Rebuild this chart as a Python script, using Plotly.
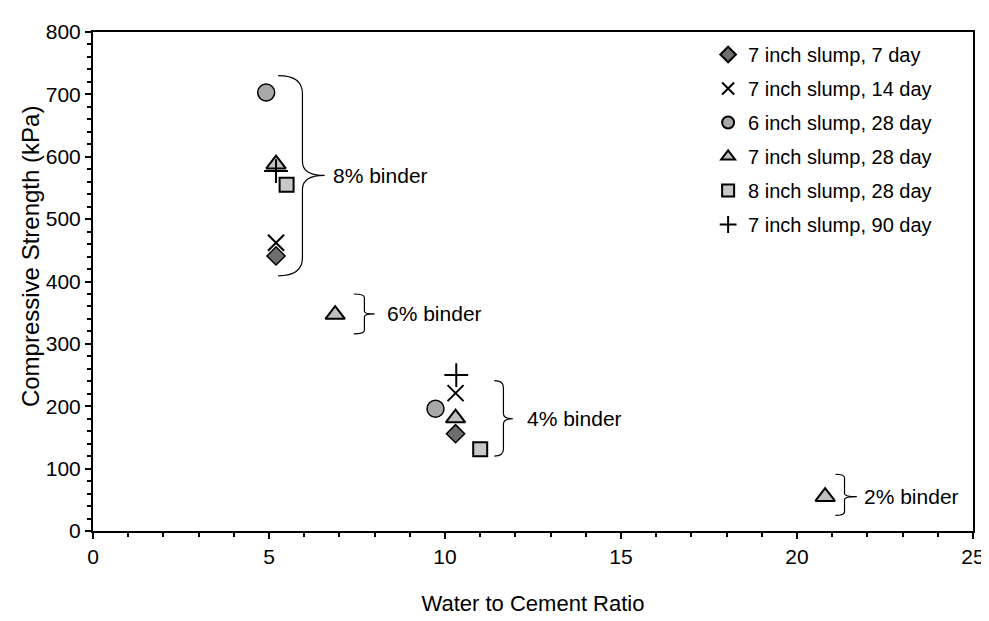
import plotly.graph_objects as go

# ---- data (water/cement ratio, compressive strength kPa) ----
series_names = ["7 inch slump, 7 day", "7 inch slump, 14 day", "6 inch slump, 28 day",
                "7 inch slump, 28 day", "8 inch slump, 28 day", "7 inch slump, 90 day"]
d7_x = [5.2, 10.3]
d7_y = [441, 156]
d14_x = [5.2, 10.3]
d14_y = [462, 221]
s6_28_x = [4.92, 9.73]
s6_28_y = [703, 196]
s7_28_x = [5.2, 6.88, 10.3, 20.8]
s7_28_y = [588, 347, 181, 55]
s8_28_x = [5.5, 11.0]
s8_28_y = [555, 131]
d90_x = [5.2, 10.32]
d90_y = [577, 250]

x_ticks = [0, 5, 10, 15, 20, 25]
y_ticks = [0, 100, 200, 300, 400, 500, 600, 700, 800]

# brace annotations: label, left x, spine x, tip x, top y, bottom y, tip y, text gap (px)
braces = [
    ("8% binder", 5.26, 5.95, 6.58, 730, 409, 570, 6),
    ("6% binder", 7.41, 7.71, 8.0, 380, 316, 348, 10),
    ("4% binder", 11.4, 11.66, 11.93, 241, 120, 180, 12),
    ("2% binder", 21.09, 21.35, 21.7, 91, 25, 55, 5),
]

FONT = "Liberation Sans, Arial, sans-serif"

fig = go.Figure()
styles = [
    dict(symbol="diamond", size=14, color="#6e6e6e", line=dict(color="black", width=1.5)),
    dict(symbol="x-thin-open", size=16, color="black", line=dict(color="black", width=2)),
    dict(symbol="circle", size=17, color="#a8a8a8", line=dict(color="black", width=1.5)),
    dict(symbol="triangle-up", size=17, color="#c0c0c0", line=dict(color="black", width=2)),
    dict(symbol="square", size=14, color="#c8c8c8", line=dict(color="black", width=2)),
    dict(symbol="cross-thin-open", size=17, color="black", line=dict(color="black", width=2)),
]
data = [(d7_x, d7_y), (d14_x, d14_y), (s6_28_x, s6_28_y), (s7_28_x, s7_28_y),
        (s8_28_x, s8_28_y), (d90_x, d90_y)]
for i, (name, (xs, ys), st) in enumerate(zip(series_names, data, styles)):
    fig.add_trace(go.Scatter(x=xs, y=ys, mode="markers", name=name, marker=st,
                             legendgroup=f"g{i}"))

def brace_path(x0, xs, xt, yt, yb, ym):
    r1 = (yt - yb) * 0.09
    r2 = (yt - yb) * 0.07
    return (f"M {x0},{yt} Q {xs},{yt} {xs},{yt - r1} "
            f"L {xs},{ym + r2} Q {xs},{ym} {xt},{ym} "
            f"Q {xs},{ym} {xs},{ym - r2} "
            f"L {xs},{yb + r1} Q {xs},{yb} {x0},{yb}")

for label, x0, xs, xt, yt, yb, ym, gap in braces:
    fig.add_shape(type="path", xref="x", yref="y", path=brace_path(x0, xs, xt, yt, yb, ym),
                  line=dict(color="black", width=1.2))
    fig.add_annotation(x=xt, y=ym, xref="x", yref="y", text=label, showarrow=False,
                       xanchor="left", yanchor="middle", xshift=gap,
                       font=dict(family=FONT, size=21, color="black"))

# y-axis title (placed slightly above the plot centre, as in the original)
fig.add_annotation(x=-0.071, y=0.55, xref="paper", yref="paper",
                   text="Compressive Strength (kPa)", textangle=-90, showarrow=False,
                   xanchor="center", yanchor="middle",
                   font=dict(family=FONT, size=24, color="black"))

axis_common = dict(showline=True, linecolor="black", linewidth=2, mirror=True,
                   ticks="outside", ticklen=6, tickwidth=2, tickcolor="black",
                   showgrid=False, zeroline=False,
                   tickfont=dict(family=FONT, size=21, color="black"))

fig.update_xaxes(range=[0, 25], tickvals=x_ticks,
                 minor=dict(dtick=1, ticks="outside", ticklen=4, tickwidth=1.5, tickcolor="black"),
                 title=dict(text="Water to Cement Ratio", standoff=28,
                            font=dict(family=FONT, size=22, color="black")),
                 **axis_common)
fig.update_yaxes(range=[0, 800], tickvals=y_ticks,
                 minor=dict(dtick=20, ticks="outside", ticklen=4, tickwidth=1.5, tickcolor="black"),
                 **axis_common)

fig.update_layout(
    width=989, height=621,
    margin=dict(l=85, r=17, t=18, b=98),
    plot_bgcolor="white", paper_bgcolor="white",
    font=dict(family=FONT, size=20, color="black"),
    legend=dict(x=0.699, y=0.994, xanchor="left", yanchor="top",
                bgcolor="rgba(0,0,0,0)", font=dict(family=FONT, size=20, color="black"),
                tracegroupgap=5, itemsizing="constant"),
)

fig.write_html("out.html")
